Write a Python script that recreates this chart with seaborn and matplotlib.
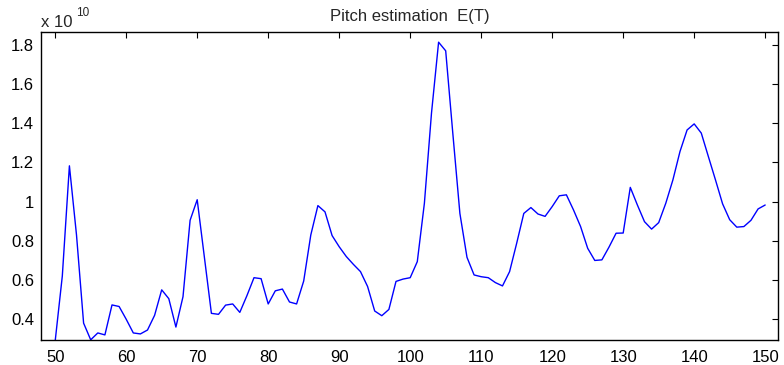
import numpy as np
import pandas as pd
import matplotlib
matplotlib.use("Agg")
import matplotlib.pyplot as plt
import seaborn as sns
from matplotlib.ticker import FormatStrFormatter

# periodo T (muestras) y energia E(T), en unidades de 1e10
periods = list(range(50, 151))
energy = [
    0.29, 0.62, 1.183, 0.83, 0.38, 0.295, 0.33, 0.32, 0.473, 0.465,
    0.40, 0.33, 0.325, 0.345, 0.42, 0.55, 0.505, 0.36, 0.515, 0.905,
    1.01, 0.72, 0.43, 0.425, 0.472, 0.478, 0.435, 0.52, 0.612, 0.607,
    0.478, 0.545, 0.554, 0.488, 0.478, 0.595, 0.83, 0.98, 0.948, 0.827,
    0.77, 0.72, 0.68, 0.643, 0.567, 0.442, 0.418, 0.45, 0.593, 0.605,
    0.612, 0.694, 0.992, 1.452, 1.814, 1.77, 1.35, 0.94, 0.716, 0.626,
    0.617, 0.612, 0.587, 0.57, 0.643, 0.788, 0.94, 0.97, 0.937, 0.925,
    0.975, 1.03, 1.035, 0.958, 0.873, 0.762, 0.70, 0.703, 0.768, 0.839,
    0.84, 1.073, 0.983, 0.898, 0.86, 0.893, 0.992, 1.111, 1.256, 1.366,
    1.397, 1.35, 1.23, 1.111, 0.989, 0.908, 0.87, 0.873, 0.905, 0.963,
    0.983,
]
x_ticks = [50, 60, 70, 80, 90, 100, 110, 120, 130, 140, 150]
y_ticks = [0.4, 0.6, 0.8, 1.0, 1.2, 1.4, 1.6, 1.8]

df = pd.DataFrame({"T": periods, "E": energy})

sns.set_style("white")
plt.rcParams["font.family"] = ["Liberation Sans", "DejaVu Sans"]

fig = plt.figure(figsize=(7.84, 3.65), dpi=100)
ax = fig.add_axes([0.0523, 0.0685, 0.94, 0.8438])

sns.lineplot(data=df, x="T", y="E", ax=ax, color="#0000ff", linewidth=1.0)

ax.set_xlim(48, 151.8)
ax.set_ylim(0.294, 1.866)
ax.set_xticks(x_ticks)
ax.set_yticks(y_ticks)
ax.yaxis.set_major_formatter(FormatStrFormatter("%g"))
ax.set_xlabel("")
ax.set_ylabel("")
ax.tick_params(direction="in", length=4, width=0.8, top=True, right=True,
               labelsize=12, colors="black")
ax.tick_params(axis="x", pad=7)
ax.tick_params(axis="y", pad=5)
for s in ax.spines.values():
    s.set_color("black")
    s.set_linewidth(1.0)

ax.set_title("Pitch estimation  E(T)", fontsize=12, pad=8)
ax.text(0.0, 1.016, "x 10", transform=ax.transAxes, fontsize=12,
        ha="left", va="baseline")
ax.text(0.047, 1.052, "10", transform=ax.transAxes, fontsize=8.5,
        ha="left", va="baseline")

fig.savefig("out.png", dpi=100)
